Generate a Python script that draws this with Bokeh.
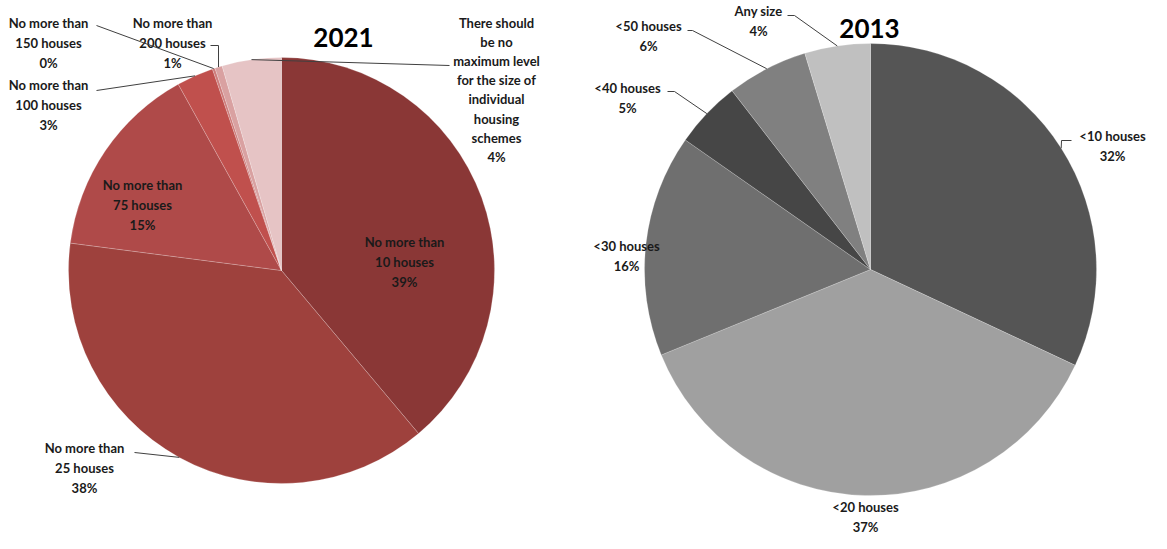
import numpy as np
from bokeh.plotting import figure
from bokeh.models import Range1d, ColumnDataSource
from bokeh.core.properties import value
from bokeh.embed import file_html
from bokeh.resources import INLINE

# ---------------- data ----------------
cats_2021 = ["No more than\n10 houses", "No more than\n25 houses", "No more than\n75 houses",
             "No more than\n100 houses", "No more than\n150 houses", "No more than\n200 houses",
             "There should\nbe no\nmaximum level\nfor the size of\nindividual\nhousing\nschemes"]
vals_2021 = [38.9, 38.2, 14.9, 2.8, 0.2, 0.56, 4.5]
pct_2021 = ["39%", "38%", "15%", "3%", "0%", "1%", "4%"]

cats_2013 = ["<10 houses", "<20 houses", "<30 houses", "<40 houses", "<50 houses", "Any size"]
vals_2013 = [32.0, 36.9, 15.9, 4.8, 5.8, 4.7]
pct_2013 = ["32%", "37%", "16%", "5%", "6%", "4%"]

# ---------------- styles / layout ----------------
cols_2021 = ["#8A3736", "#9E413D", "#AF4A49", "#C0504D", "#CD7B7A", "#D9A1A1", "#E6C4C5"]
cols_2013 = ["#555555", "#A0A0A0", "#6F6F6F", "#464646", "#808080", "#C0C0C0"]

W, H = 1151, 533
def X(xi): return xi - 8
def Y(yi): return 541 - yi

FONT = value("Lato")
p = figure(width=W, height=H, x_range=Range1d(0, W), y_range=Range1d(0, H),
           output_backend="svg", toolbar_location=None, min_border=0)
p.axis.visible = False
p.grid.visible = False
p.outline_line_color = None

def pie(cx, cy, r, vals, cols):
    v = np.array(vals, dtype=float)
    frac = v / v.sum()
    c1 = np.cumsum(frac)
    c0 = c1 - frac
    start = np.pi / 2 - 2 * np.pi * c0
    end = np.pi / 2 - 2 * np.pi * c1
    src = ColumnDataSource(dict(x=[cx] * len(v), y=[cy] * len(v), s=start, e=end, c=cols))
    p.wedge(x="x", y="y", radius=r, start_angle="s", end_angle="e", direction="clock",
            fill_color="c", line_color="white", line_width=0.4, line_alpha=0.5, source=src)
    mid = np.pi / 2 - 2 * np.pi * (c0 + c1) / 2
    return mid

# left pie
lcx, lcy, lr = X(289), Y(278), 213
lmid = pie(lcx, lcy, lr, vals_2021, cols_2021)
# right pie
rcx, rcy, rr = X(878), Y(277), 226
rmid = pie(rcx, rcy, rr, vals_2013, cols_2013)

# label placements (image coords: center x, top y of block, line height)
lab_2021 = [(412, 241, 1.25), (92, 447, 1.25), (150, 184, 1.25), (56, 84, 1.25),
            (56, 22, 1.25), (180, 22, 1.25), (504, 22, 1.2)]
lab_2013 = [(1120, 135, 1.25), (873, 506, 1.25), (634, 245, 1.25), (635, 87, 1.25),
            (656, 25, 1.25), (766, 10, 1.25)]

def labels(cats, pcts, pos):
    for c, q, (a, b, lh) in zip(cats, pcts, pos):
        p.text(x=[X(a)], y=[Y(b)], text=[c + "\n" + q], text_font=FONT,
               text_font_style="bold", text_font_size="13px", text_align="center",
               text_baseline="top", text_line_height=lh, text_color="#1A1A1A")

labels(cats_2021, pct_2021, lab_2021)
labels(cats_2013, pct_2013, lab_2013)

# leaders: (slice index, polyline start points in image coords)
lead_2021 = [(1, [(142, 460)]), (3, [(104, 98)]), (4, [(104, 33)]),
             (5, [(218, 53), (226, 53)]), (6, [(457, 73)])]
lead_2013 = [(0, [(1079, 148), (1069, 148)]), (3, [(675, 99), (682, 99)]),
             (4, [(695, 38), (700, 38)]), (5, [(795, 23), (802, 23)])]

def leaders(lst, mid, cx, cy, r):
    xs, ys = [], []
    for i, pts in lst:
        px = [X(a) for a, b in pts] + [cx + r * np.cos(mid[i])]
        py = [Y(b) for a, b in pts] + [cy + r * np.sin(mid[i])]
        xs.append(px); ys.append(py)
    p.multi_line(xs=xs, ys=ys, line_color="#404040", line_width=1)

leaders(lead_2021, lmid, lcx, lcy, lr)
leaders(lead_2013, rmid, rcx, rcy, rr)

# titles
p.text(x=[X(351), X(877)], y=[Y(45), Y(36)], text=["2021", "2013"], text_font=FONT,
       text_font_style="bold", text_font_size="26px", text_align="center",
       text_baseline="middle", text_color="#000000")

open("out.html", "w").write(file_html(p, INLINE))
